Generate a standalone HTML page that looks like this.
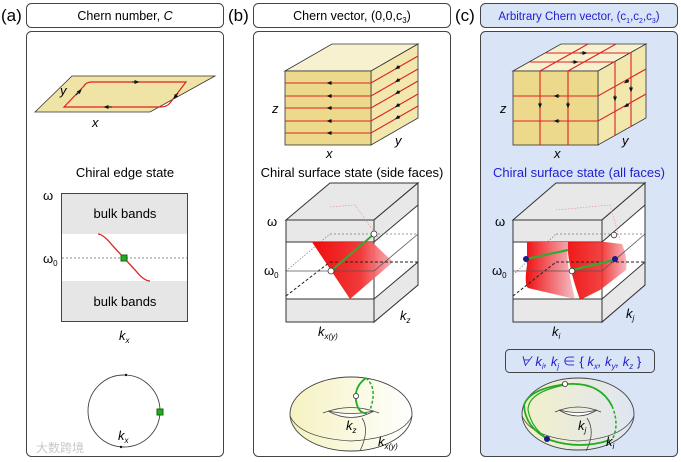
<!DOCTYPE html>
<html><head><meta charset="utf-8"><style>
html,body{margin:0;padding:0;background:#fff;}
svg{display:block;font-family:"Liberation Sans","Noto Sans CJK SC",sans-serif;}
</style></head><body>
<svg width="681" height="462" viewBox="0 0 681 462" xmlns="http://www.w3.org/2000/svg">
<defs>
<linearGradient id="red" x1="0" y1="0" x2="1" y2="0"><stop offset="0" stop-color="#ee0000"/><stop offset="0.6" stop-color="#f03030"/><stop offset="1" stop-color="#f6b0b8"/></linearGradient>
<linearGradient id="red2" x1="0" y1="0" x2="1" y2="0"><stop offset="0" stop-color="#f01010"/><stop offset="1" stop-color="#f3c0c8"/></linearGradient>
<linearGradient id="tor" x1="0" y1="0" x2="1" y2="0"><stop offset="0" stop-color="#f5f2c0"/><stop offset="1" stop-color="#ffffff"/></linearGradient>
<linearGradient id="tor2" x1="0" y1="0" x2="1" y2="0"><stop offset="0" stop-color="#f3f0c8"/><stop offset="1" stop-color="#dfe6f2"/></linearGradient>
<marker id="ar" viewBox="0 0 10 10" refX="5" refY="5" markerWidth="5" markerHeight="5" orient="auto"><path d="M0,1 L10,5 L0,9 z" fill="#111"/></marker>
</defs>

<!-- Panel labels -->
<text x="1" y="21" font-size="17">(a)</text>
<text x="228" y="21" font-size="17">(b)</text>
<text x="455" y="21" font-size="17">(c)</text>

<!-- Headers -->
<rect x="26.5" y="3.5" width="197" height="24" rx="5" fill="#fff" stroke="#444"/>
<text x="125" y="20" font-size="12.5" text-anchor="middle">Chern number, <tspan font-style="italic">C</tspan></text>
<rect x="253.5" y="3.5" width="197" height="24" rx="5" fill="#fff" stroke="#444"/>
<text x="352" y="20" font-size="12.5" text-anchor="middle">Chern vector, (0,0,c<tspan font-size="8" dy="3">3</tspan><tspan dy="-3">)</tspan></text>
<rect x="480.5" y="3.5" width="197" height="24" rx="5" fill="#d9e4f6" stroke="#444"/>
<text x="579" y="20" font-size="11.5" text-anchor="middle" fill="#2020d0">Arbitrary Chern vector, (c<tspan font-size="7" dy="3">1</tspan><tspan dy="-3">,c</tspan><tspan font-size="7" dy="3">2</tspan><tspan dy="-3">,c</tspan><tspan font-size="7" dy="3">3</tspan><tspan dy="-3">)</tspan></text>

<!-- Bodies -->
<rect x="26.5" y="31.5" width="197" height="425" rx="5" fill="#fff" stroke="#444"/>
<rect x="253.5" y="31.5" width="197" height="425" rx="5" fill="#fff" stroke="#444"/>
<rect x="480.5" y="31.5" width="197" height="425" rx="5" fill="#d9e4f6" stroke="#444"/>

<!-- ===== Panel A ===== -->
<polygon points="35,112 72,76 215,76 150,112" fill="#efe3a6" stroke="#333" stroke-width="0.8"/>
<path d="M64,107 L84,86 Q86,82 92,82 L186,82 L170,103 Q167,107 160,107 Z" fill="none" stroke="#d22" stroke-width="1.2"/>
<path d="M132,82 L137,82" stroke="#111" marker-end="url(#ar)"/>
<path d="M178,93 L175,97" stroke="#111" marker-end="url(#ar)"/>
<path d="M112,107 L106,107" stroke="#111" marker-end="url(#ar)"/>
<path d="M76,95 L80,91" stroke="#111" marker-end="url(#ar)"/>
<text x="60" y="95" font-size="13" font-style="italic">y</text>
<text x="92" y="127" font-size="13" font-style="italic">x</text>
<text x="125" y="177" font-size="13" text-anchor="middle">Chiral edge state</text>
<rect x="61.5" y="193.5" width="126" height="128" fill="#fff" stroke="#444"/>
<rect x="62" y="194" width="125" height="40" fill="#e6e6e6"/>
<rect x="62" y="281" width="125" height="40" fill="#e6e6e6"/>
<text x="125" y="218" font-size="13" text-anchor="middle">bulk bands</text>
<text x="125" y="306" font-size="13" text-anchor="middle">bulk bands</text>
<line x1="62" y1="258" x2="187" y2="258" stroke="#666" stroke-width="0.8" stroke-dasharray="2,2"/>
<path d="M98,234 Q103,234 112,245 L136,271 Q144,281 150,281" fill="none" stroke="#d22" stroke-width="1.3"/>
<rect x="121" y="255" width="6" height="6" fill="#2a2" stroke="#161"/>
<text x="43" y="200" font-size="13">ω</text>
<text x="43" y="263" font-size="13">ω<tspan font-size="8" dy="3">0</tspan></text>
<text x="119" y="340" font-size="13" font-style="italic">k<tspan font-size="8" dy="3">x</tspan></text>
<circle cx="124" cy="411" r="36" fill="none" stroke="#444" stroke-width="0.9"/>
<circle cx="126" cy="375" r="1.2" fill="#111"/>
<circle cx="121" cy="447" r="1.2" fill="#111"/>
<rect x="157" y="409" width="6" height="6" fill="#2a2" stroke="#161"/>
<text x="118" y="440" font-size="13" font-style="italic">k<tspan font-size="8" dy="3">x</tspan></text>
<text x="36" y="452" font-size="12" fill="#c8c8c8">大数跨境</text>

<!-- ===== Panel B cube ===== -->
<polygon points="285,71 332,44 418,44 371,71" fill="#f8f1cf" stroke="#333" stroke-width="0.8"/>
<polygon points="371,71 418,44 418,118 371,145" fill="#f2e7ad" stroke="#333" stroke-width="0.8"/>
<rect x="285" y="71" width="86" height="74" fill="#ecd98b" stroke="#333" stroke-width="0.8"/>
<g stroke="#d22" stroke-width="1.1" fill="none">
<path d="M285,83 L371,83 L418,56"/><path d="M285,96 L371,96 L418,69"/><path d="M285,108 L371,108 L418,81"/><path d="M285,121 L371,121 L418,94"/><path d="M285,133 L371,133 L418,106"/>
</g>
<g stroke="#111">
<path d="M332,83 L329,83" marker-end="url(#ar)"/><path d="M332,96 L329,96" marker-end="url(#ar)"/><path d="M332,108 L329,108" marker-end="url(#ar)"/><path d="M332,121 L329,121" marker-end="url(#ar)"/><path d="M332,133 L329,133" marker-end="url(#ar)"/>
<path d="M400,66 L397,68" marker-end="url(#ar)"/><path d="M400,79 L397,81" marker-end="url(#ar)"/><path d="M400,91 L397,93" marker-end="url(#ar)"/><path d="M400,104 L397,106" marker-end="url(#ar)"/><path d="M400,116 L397,118" marker-end="url(#ar)"/>
</g>
<text x="272" y="113" font-size="13" font-style="italic">z</text>
<text x="326" y="158" font-size="13" font-style="italic">x</text>
<text x="395" y="145" font-size="13" font-style="italic">y</text>
<text x="352" y="177" font-size="13" text-anchor="middle">Chiral surface state (side faces)</text>

<!-- Panel B 3D box -->
<g stroke="#333" stroke-width="1">
<polygon points="286,220 330,183 418,183 374,220" fill="#e8e8e8"/>
<polygon points="374,220 418,183 418,285 374,322" fill="#fff"/>
<polygon points="374,220 418,183 418,205 374,242" fill="#e8e8e8"/>
<polygon points="374,299 418,262 418,285 374,322" fill="#e8e8e8"/>
<rect x="286" y="220" width="88" height="102" fill="#fff"/>
<rect x="286" y="220" width="88" height="22" fill="#e8e8e8"/>
<rect x="286" y="299" width="88" height="23" fill="#e8e8e8"/>
</g>
<line x1="330" y1="234" x2="418" y2="234" stroke="#777" stroke-width="0.8" stroke-dasharray="2,2"/>
<line x1="286" y1="271" x2="330" y2="234" stroke="#777" stroke-width="0.7" stroke-dasharray="1.5,1.5"/>
<polygon points="312,242 372,242 393,262 350,299" fill="url(#red)" opacity="0.95"/>
<line x1="286" y1="296" x2="330" y2="262" stroke="#222" stroke-dasharray="3,2"/>
<line x1="330" y1="262" x2="418" y2="262" stroke="#222" stroke-dasharray="3,2"/>
<line x1="286" y1="271" x2="374" y2="271" stroke="#555" stroke-width="0.8"/>
<line x1="374" y1="271" x2="418" y2="234" stroke="#555" stroke-width="0.8"/>
<path d="M330,207 L355,205 L380,240" fill="none" stroke="#e88" stroke-width="0.6" stroke-dasharray="1.5,1.5"/>
<line x1="331" y1="271" x2="374" y2="234" stroke="#3a3" stroke-width="2"/>
<circle cx="331" cy="271" r="3" fill="#fff" stroke="#333" stroke-width="0.8"/>
<circle cx="374" cy="234" r="3" fill="#fff" stroke="#333" stroke-width="0.8"/>
<text x="267" y="226" font-size="13">ω</text>
<text x="264" y="275" font-size="13">ω<tspan font-size="8" dy="3">0</tspan></text>
<text x="400" y="320" font-size="13" font-style="italic">k<tspan font-size="8" dy="3">z</tspan></text>
<text x="318" y="336" font-size="13" font-style="italic">k<tspan font-size="8" dy="3">x(y)</tspan></text>

<!-- Panel B torus -->
<ellipse cx="351" cy="414" rx="61" ry="37" fill="url(#tor)" stroke="#444" stroke-width="0.9"/>
<path d="M290,416 Q300,438 351,441 Q402,438 412,416" fill="none" stroke="#444" stroke-width="0.8"/>
<path d="M323,413 Q351,402 379,413" fill="none" stroke="#444" stroke-width="0.8"/>
<path d="M328,411 Q351,424 374,411 Q351,416 328,411" fill="#fff" stroke="#444" stroke-width="0.8"/>
<path d="M362,418 Q370,430 360,451" fill="none" stroke="#444" stroke-width="0.8"/>
<path d="M366,378 Q352,388 357,405 Q360,414 367,413" fill="none" stroke="#2a2" stroke-width="1.8"/>
<path d="M366,378 Q378,388 370,410" fill="none" stroke="#2a2" stroke-width="1.5" stroke-dasharray="3,2"/>
<circle cx="356" cy="396" r="2.6" fill="#fff" stroke="#333" stroke-width="0.8"/>
<text x="346" y="430" font-size="13" font-style="italic">k<tspan font-size="8" dy="3">z</tspan></text>
<text x="378" y="446" font-size="13" font-style="italic">k<tspan font-size="8" dy="3">x(y)</tspan></text>

<!-- ===== Panel C cube ===== -->
<polygon points="513,71 561,44 646,44 598,71" fill="#f8f1cf" stroke="#333" stroke-width="0.8"/>
<polygon points="598,71 646,44 646,118 598,145" fill="#f2e7ad" stroke="#333" stroke-width="0.8"/>
<rect x="513" y="71" width="85" height="74" fill="#ecd98b" stroke="#333" stroke-width="0.8"/>
<g stroke="#d22" stroke-width="1.1" fill="none">
<path d="M540,145 L540,71 L588,44"/><path d="M568,145 L568,71 L616,44"/>
<path d="M513,96 L598,96 L646,69"/><path d="M513,121 L598,121 L646,94"/>
<path d="M530,62 L615,62 L615,136"/><path d="M546,53 L631,53 L631,127"/>
</g>
<g stroke="#111">
<path d="M540,102 L540,106" marker-end="url(#ar)"/><path d="M568,102 L568,106" marker-end="url(#ar)"/>
<path d="M560,96 L556,96" marker-end="url(#ar)"/><path d="M560,121 L556,121" marker-end="url(#ar)"/>
<path d="M580,53 L585,53" marker-end="url(#ar)"/><path d="M571,62 L576,62" marker-end="url(#ar)"/>
<path d="M615,95 L615,99" marker-end="url(#ar)"/><path d="M631,86 L631,90" marker-end="url(#ar)"/>
<path d="M629,80 L626,82" marker-end="url(#ar)"/><path d="M629,104 L626,106" marker-end="url(#ar)"/>
</g>
<text x="500" y="113" font-size="13" font-style="italic">z</text>
<text x="554" y="158" font-size="13" font-style="italic">x</text>
<text x="622" y="145" font-size="13" font-style="italic">y</text>
<text x="579" y="177" font-size="13" text-anchor="middle" fill="#2020d0">Chiral surface state (all faces)</text>

<!-- Panel C 3D box -->
<g stroke="#333" stroke-width="1">
<polygon points="513,220 556,183 645,183 602,220" fill="#e8e8e8"/>
<polygon points="602,220 645,183 645,285 602,322" fill="#fff"/>
<polygon points="602,220 645,183 645,205 602,242" fill="#e8e8e8"/>
<polygon points="602,299 645,262 645,285 602,322" fill="#e8e8e8"/>
<rect x="513" y="220" width="89" height="102" fill="#fff"/>
<rect x="513" y="220" width="89" height="22" fill="#e8e8e8"/>
<rect x="513" y="299" width="89" height="23" fill="#e8e8e8"/>
</g>
<line x1="556" y1="234" x2="645" y2="234" stroke="#777" stroke-width="0.8" stroke-dasharray="2,2"/>
<line x1="513" y1="275" x2="556" y2="234" stroke="#777" stroke-width="0.7" stroke-dasharray="1.5,1.5"/>
<path d="M527,242 L568,242 Q565,260 575,299 L528,288 Q524,285 527,265 Z" fill="url(#red2)"/>
<path d="M568,242 L605,242 L622,244 Q628,258 626,270 L600,290 L580,300 Q566,260 568,242 Z" fill="url(#red)" opacity="0.9"/>
<line x1="513" y1="296" x2="556" y2="262" stroke="#222" stroke-dasharray="3,2"/>
<line x1="556" y1="262" x2="645" y2="262" stroke="#222" stroke-dasharray="3,2"/>
<line x1="513" y1="271" x2="602" y2="271" stroke="#555" stroke-width="0.8"/>
<line x1="602" y1="271" x2="645" y2="234" stroke="#555" stroke-width="0.8"/>
<path d="M556,210 L610,205 L620,240" fill="none" stroke="#e88" stroke-width="0.6" stroke-dasharray="1.5,1.5"/>
<line x1="526" y1="259" x2="568" y2="250" stroke="#3a3" stroke-width="2.2"/>
<line x1="572" y1="270" x2="614" y2="260" stroke="#3a3" stroke-width="2.2"/>
<circle cx="526" cy="259" r="3" fill="#1a1a8a"/>
<circle cx="615" cy="259" r="3" fill="#1a1a8a"/>
<circle cx="572" cy="271" r="2.8" fill="#fff" stroke="#333" stroke-width="0.8"/>
<circle cx="614" cy="235" r="2.8" fill="#fff" stroke="#333" stroke-width="0.8"/>
<text x="495" y="226" font-size="13">ω</text>
<text x="492" y="275" font-size="13">ω<tspan font-size="8" dy="3">0</tspan></text>
<text x="626" y="318" font-size="13" font-style="italic">k<tspan font-size="8" dy="3">j</tspan></text>
<text x="552" y="336" font-size="13" font-style="italic">k<tspan font-size="8" dy="3">i</tspan></text>
<rect x="505.5" y="349.5" width="149" height="23" rx="4" fill="#d9e4f6" stroke="#444"/>
<text x="580" y="366" font-size="13" text-anchor="middle" fill="#2020d0" font-style="italic">∀ k<tspan font-size="8" dy="3">i</tspan><tspan dy="-3">, k</tspan><tspan font-size="8" dy="3">j</tspan><tspan dy="-3" font-style="normal"> ∈ { </tspan><tspan>k</tspan><tspan font-size="8" dy="3">x</tspan><tspan dy="-3">, k</tspan><tspan font-size="8" dy="3">y</tspan><tspan dy="-3">, k</tspan><tspan font-size="8" dy="3">z</tspan><tspan dy="-3" font-style="normal"> }</tspan></text>

<!-- Panel C torus -->
<ellipse cx="578" cy="414" rx="56" ry="36" fill="url(#tor2)" stroke="#444" stroke-width="0.9"/>
<path d="M522,416 Q532,438 578,441 Q624,438 634,416" fill="none" stroke="#444" stroke-width="0.8"/>
<path d="M555,412 Q578,402 601,412" fill="none" stroke="#444" stroke-width="0.8"/>
<path d="M559,410 Q578,422 597,410 Q578,415 559,410" fill="#fff" stroke="#444" stroke-width="0.8"/>
<path d="M587,418 Q596,432 586,451" fill="none" stroke="#444" stroke-width="0.8"/>
<path d="M568,384 Q530,388 524,405 Q525,428 550,440 Q580,450 610,440" fill="none" stroke="#2a2" stroke-width="1.8"/>
<path d="M568,384 Q600,382 612,406" fill="none" stroke="#2a2" stroke-width="1.8"/>
<path d="M612,406 Q620,425 612,440" fill="none" stroke="#2a2" stroke-width="1.5" stroke-dasharray="3,2"/>
<path d="M565,385 Q528,392 528,410 Q532,430 550,440" fill="none" stroke="#2a2" stroke-width="1.2"/>
<circle cx="565" cy="384" r="2.6" fill="#fff" stroke="#333" stroke-width="0.8"/>
<circle cx="547" cy="439" r="3" fill="#1a1a8a"/>
<text x="578" y="430" font-size="13" font-style="italic">k<tspan font-size="8" dy="3">j</tspan></text>
<text x="606" y="446" font-size="13" font-style="italic">k<tspan font-size="8" dy="3">i</tspan></text>
</svg>
</body></html>
